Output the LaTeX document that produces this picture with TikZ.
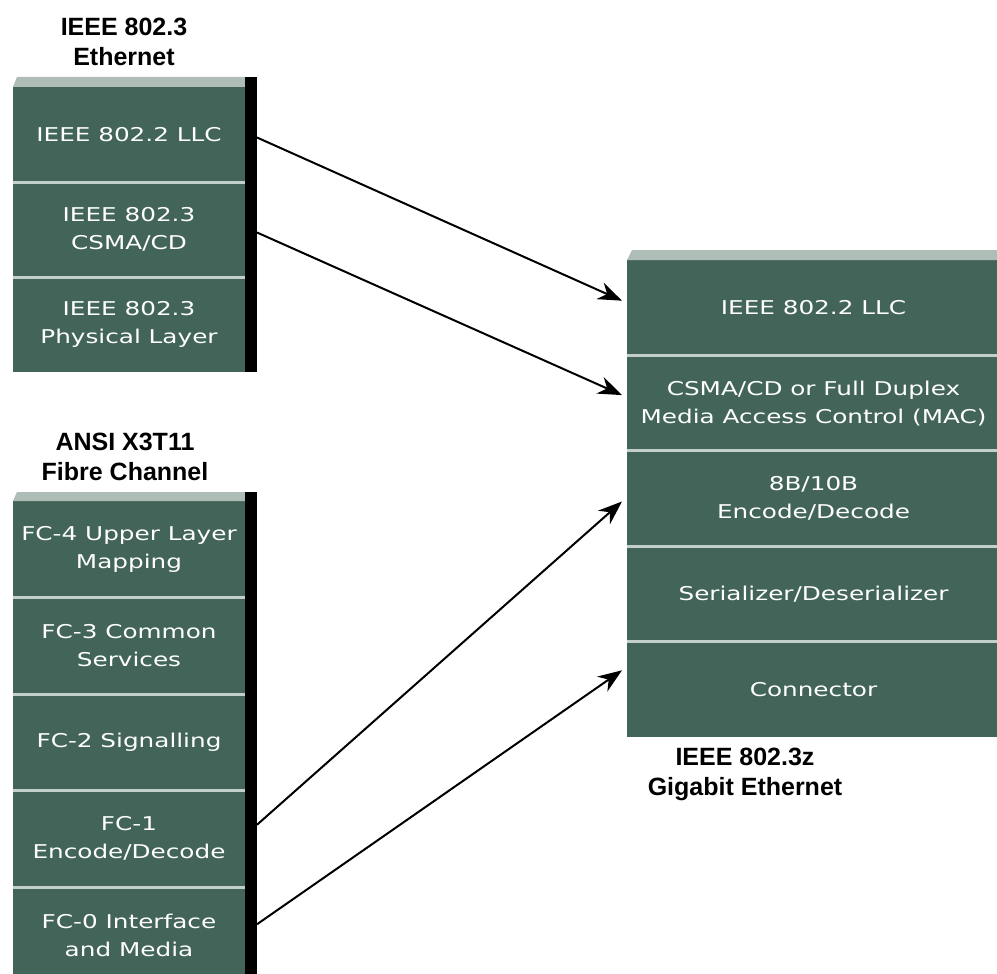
\documentclass[tikz,border=0pt]{standalone}
\usepackage{fontspec}
\usepackage{xcolor}
\usepackage{tikz}
\usetikzlibrary{arrows.meta,positioning}
\newfontfamily\layerfont[FakeStretch=1.3]{DejaVu Sans}
\newfontfamily\tagfont{Liberation Sans}
\definecolor{layergreen}{HTML}{426459}
\definecolor{seplight}{HTML}{C3CFC9}
\definecolor{edgegrey}{HTML}{AEBDB6}

\begin{document}
\begin{tikzpicture}[
        x=1pt, y=-1pt,
        node distance=0pt,
        layer/.style={
          fill=layergreen,
          text=white,
          inner sep=0pt,
          outer sep=0pt,
          align=center,
          font=\layerfont\fontsize{19}{28}\selectfont
        },
        ethlayer/.style={layer, minimum width=232pt, minimum height=95pt},
        fclayer/.style={layer, minimum width=232pt, minimum height=96.5pt},
        gbelayer/.style={layer, minimum width=373pt, minimum height=95.4pt},
        stacklabel/.style={align=center, font=\tagfont\bfseries\fontsize{25}{30}\selectfont},
        divider/.style={draw=seplight, line width=3pt},
        arrow/.style={-{Stealth[length=24pt,width=18pt]}, line width=2pt, draw=black}
      ]
        \useasboundingbox (0,0) rectangle (997,974);

        \node[ethlayer, anchor=north west] (ethllc) at (13,87) {IEEE 802.2 LLC};
        \node[ethlayer, below=of ethllc] (ethmac) {IEEE 802.3\\CSMA/CD};
        \node[ethlayer, below=of ethmac] (ethphy) {IEEE 802.3\\Physical Layer};

        \node[fclayer, anchor=north west] (fcfour) at (13,501) {FC-4 Upper Layer\\Mapping};
        \node[fclayer, below=of fcfour] (fcthree) {FC-3 Common\\Services};
        \node[fclayer, below=of fcthree] (fctwo) {FC-2 Signalling};
        \node[fclayer, below=of fctwo] (fcone) {FC-1\\Encode/Decode};
        \node[fclayer, below=of fcone] (fczero) {FC-0 Interface\\and Media};

        \node[gbelayer, anchor=north west] (gbellc) at (627,260) {IEEE 802.2 LLC};
        \node[gbelayer, below=of gbellc] (gbemac) {CSMA/CD or Full Duplex\\Media Access Control (MAC)};
        \node[gbelayer, below=of gbemac] (gbeenc) {8B/10B\\Encode/Decode};
        \node[gbelayer, below=of gbeenc] (gbeser) {Serializer/Deserializer};
        \node[gbelayer, below=of gbeser] (gbecon) {Connector};

        \foreach \a in {ethllc,ethmac,fcfour,fcthree,fctwo,fcone,gbellc,gbemac,gbeenc,gbeser}
          \draw[divider] (\a.south west) -- (\a.south east);

        \fill[edgegrey] (ethllc.north west) -- ++(4,-10) -- ([yshift=10pt]ethllc.north east) -- (ethllc.north east) -- cycle;
        \fill[edgegrey] (fcfour.north west) -- ++(4,-9) -- ([yshift=9pt]fcfour.north east) -- (fcfour.north east) -- cycle;
        \fill[edgegrey] (gbellc.north west) -- ++(5,-10) -- ([yshift=10pt]gbellc.north east) -- (gbellc.north east) -- cycle;
        \fill[black] ([yshift=10pt]ethllc.north east) rectangle ([xshift=12pt]ethphy.south east);
        \fill[black] ([yshift=9pt]fcfour.north east) rectangle ([xshift=12pt]fczero.south east);

        \node[stacklabel] (ethtag) at (124,42) {IEEE 802.3\\Ethernet};
        \node[stacklabel] (fctag) at (125,457) {ANSI X3T11\\Fibre Channel};
        \node[stacklabel] (gbetag) at (745,774) {IEEE 802.3z\\Gigabit Ethernet};

        \draw[arrow] ([xshift=12pt,yshift=-3pt]ethllc.east) -- ([xshift=-5pt,yshift=7pt]gbellc.west);
        \draw[arrow] ([xshift=12pt,yshift=-3pt]ethmac.east) -- ([xshift=-5pt,yshift=8pt]gbemac.west);
        \draw[arrow] ([xshift=12pt,yshift=14pt]fcone.east) -- ([xshift=-5pt,yshift=-3pt]gbeenc.west);
        \draw[arrow] ([xshift=12pt,yshift=11pt]fczero.east) -- ([xshift=-5pt,yshift=19pt]gbecon.west);
      \end{tikzpicture}
\end{document}
